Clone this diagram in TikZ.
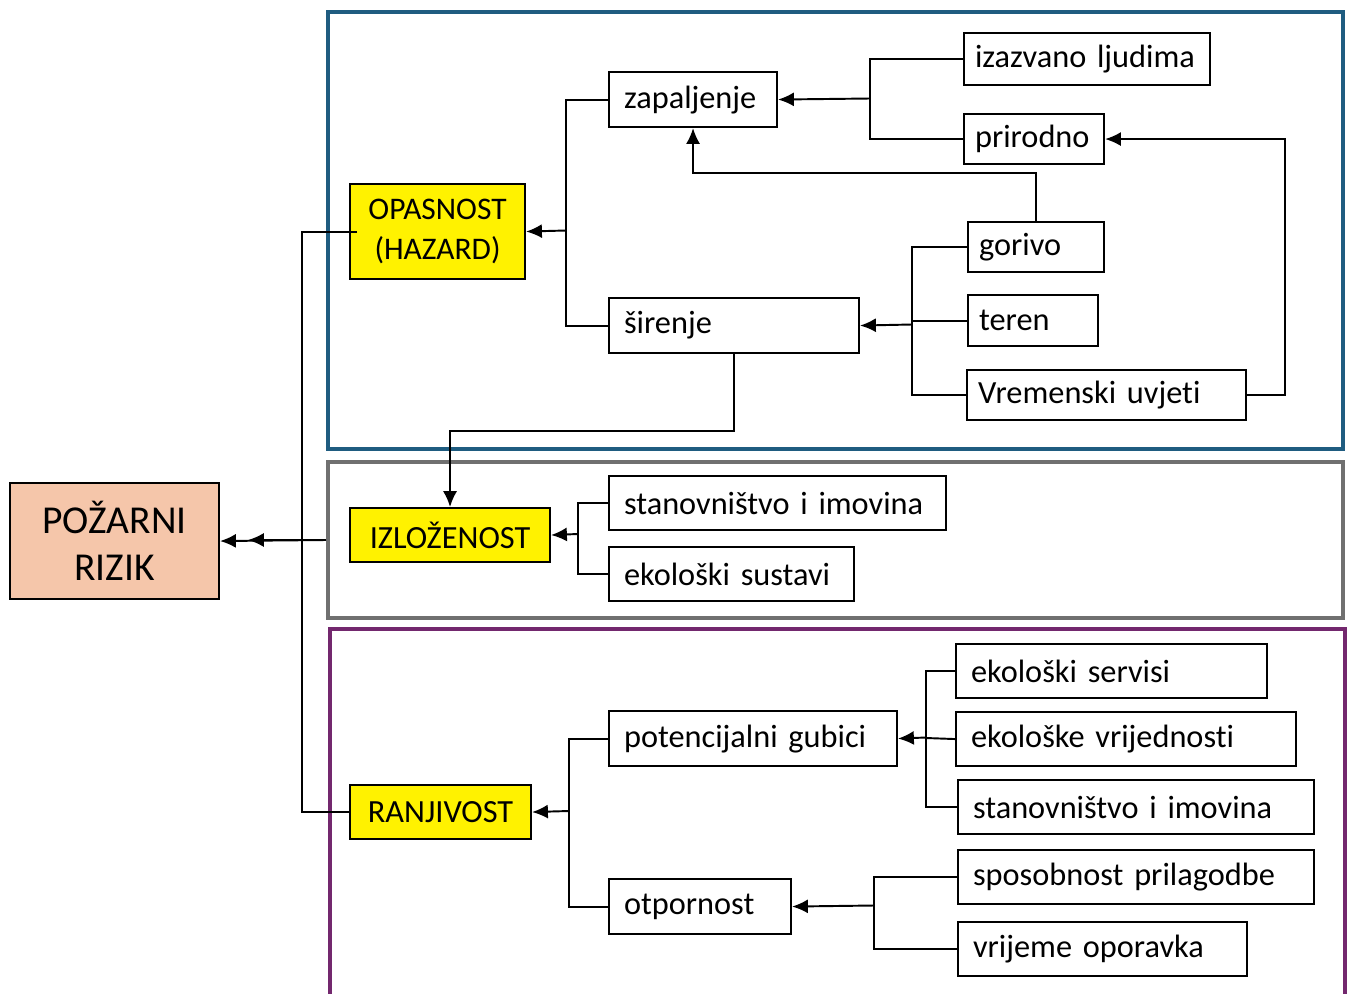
\documentclass[tikz,border=0pt]{standalone}
\usepackage{fontspec}
\setmainfont{Carlito}[Ligatures=NoCommon]
\usetikzlibrary{arrows.meta}

\definecolor{hazblue}{RGB}{31,92,128}
\definecolor{expgray}{RGB}{112,112,112}
\definecolor{vulpurple}{RGB}{115,40,110}
\definecolor{riskpeach}{RGB}{245,198,170}

\tikzset{
  item/.style={draw, line width=1.2pt, anchor=north west, inner xsep=0.3cm,
    inner ysep=0pt, align=left, font=\fontsize{18.4}{22}\selectfont},
  keybox/.style={item, fill=yellow, align=center},
  frame/.style={line width=2.4pt},
  link/.style={line width=1.1pt},
  arr/.style={link, -{Latex[length=9pt,width=8pt]}}
}

\begin{document}
\begin{tikzpicture}[x=0.02cm, y=-0.02cm]

\useasboundingbox (0,0) rectangle (1349,994);

% the three frames
\node[frame, draw=hazblue, minimum width=20.3cm, minimum height=8.74cm] (hazfr) at (835.5,230.5) {};
\node[frame, draw=expgray, minimum width=20.3cm, minimum height=3.12cm] (expfr) at (835.5,540) {};
\draw[frame, vulpurple] (330,996) -- (330,629) -- (1345,629) -- (1345,996);

% main boxes
\node[keybox, fill=riskpeach, minimum width=4.18cm, minimum height=2.32cm,
  font=\fontsize{22.5}{27}\selectfont] (poz) at (9,482) {POŽARNI\\RIZIK};
\node[keybox, minimum width=3.5cm, minimum height=1.9cm,
  font=\fontsize{17.9}{22.5}\selectfont] (opas) at (349,183) {OPASNOST\\(HAZARD)};
\node[keybox, minimum width=4.0cm, minimum height=1.08cm] (izl) at (349,507) {IZLOŽENOST};
\node[keybox, minimum width=3.62cm, minimum height=1.08cm] (ranj) at (349,784) {RANJIVOST};

% hazard
\node[item, text width=2.76cm, minimum height=1.1cm] (zap) at (608,71) {zapaljenje};
\node[item, inner xsep=0.22cm, text width=4.48cm, minimum height=1.04cm] (izaz) at (963,32) {izazvano ljudima};
\node[item, inner xsep=0.22cm, text width=2.36cm, minimum height=1.0cm] (prir) at (963,113) {prirodno};
\node[item, inner xsep=0.22cm, text width=2.28cm, minimum height=1.0cm] (gor) at (967,221) {gorivo};
\node[item, inner xsep=0.22cm, text width=2.16cm, minimum height=1.02cm] (ter) at (967,294) {teren};
\node[item, inner xsep=0.22cm, text width=5.14cm, minimum height=1.0cm] (vrem) at (966,369) {Vremenski uvjeti};
\node[item, text width=4.4cm, minimum height=1.1cm] (sir) at (608,297) {širenje};

% exposure
\node[item, text width=6.14cm, minimum height=1.08cm] (stan1) at (608,475) {stanovništvo i imovina};
\node[item, text width=4.3cm, minimum height=1.08cm] (ekos) at (608,546) {ekološki sustavi};

% vulnerability
\node[item, text width=5.16cm, minimum height=1.1cm] (pot) at (608,710) {potencijalni gubici};
\node[item, text width=3.04cm, minimum height=1.1cm] (otp) at (608,878) {otpornost};
\node[item, text width=5.62cm, minimum height=1.08cm] (serv) at (955,643) {ekološki servisi};
\node[item, text width=6.2cm, minimum height=1.08cm] (vrij) at (955,711) {ekološke vrijednosti};
\node[item, text width=6.52cm, minimum height=1.08cm] (stan2) at (957,779) {stanovništvo i imovina};
\node[item, text width=6.52cm, minimum height=1.08cm] (spos) at (957,849) {sposobnost prilagodbe};
\node[item, text width=5.18cm, minimum height=1.08cm] (vrop) at (957,921) {vrijeme oporavka};

% brackets and arrows
\draw[link] (izaz.west) -| (870,98.5) |- (prir.west);
\draw[arr] (870,98.5) -- (zap.east);
\draw[link] (zap.west) -| (566,230.5) |- (sir.west);
\draw[arr] (566,230.5) -- (opas.east);
\draw[arr] (gor.north) -- ++(0,-48) -| (zap.south);
\draw[arr] (vrem.east) -- ++(38,0) |- (prir.east);
\draw[link] (gor.west) -| (912,324.5) |- (vrem.west);
\draw[link] (ter.west) -- ++(-55,0);
\draw[arr] (912,324.5) -- (sir.east);
\draw[arr] (sir.south) -- ++(0,77) -| (izl.north);

\draw[link] (stan1.west) -| (578,534) |- (ekos.west);
\draw[arr] (578,534) -- (izl.east);

\draw[link] (pot.west) -| (569,811) |- (otp.west);
\draw[arr] (569,811) -- (ranj.east);
\draw[link] (serv.west) -| (926,737.5) |- (stan2.west);
\draw[link] (vrij.west) -- (926,738);
\draw[arr] (926,737.5) -- (pot.east);
\draw[link] (spos.west) -| (874,905.5) |- (vrop.west);
\draw[arr] (874,905.5) -- (otp.east);

% into the fire risk box
\draw[link] (opas.west) ++(8,0) -- ++(-55,0) |- (ranj.west);
\draw[arr] (expfr.west) -- (poz.east);
\draw[arr] (expfr.west) -- ++(-78,0);

\end{tikzpicture}
\end{document}
